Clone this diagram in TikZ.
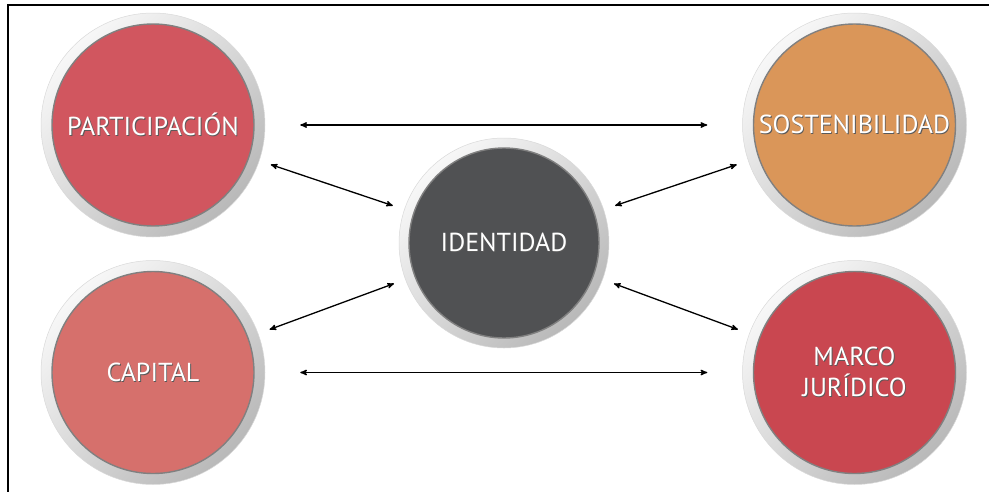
\documentclass[tikz,border=0pt]{standalone}
\usepackage{fontspec}
\setmainfont{PT Sans}
\usetikzlibrary{shapes,arrows,positioning}

\definecolor{partred}{RGB}{209,86,95}
\definecolor{capred}{RGB}{214,112,108}
\definecolor{sostorange}{RGB}{218,150,89}
\definecolor{marcored}{RGB}{201,71,80}
\definecolor{identgray}{RGB}{80,81,83}

\newcommand\embossed[1]{\leavevmode\rlap{\kern0.9pt\raisebox{-0.9pt}{\textcolor{black!65}{#1}}}#1}

\begin{document}
\begin{tikzpicture}[x=1pt,y=-1pt,>=stealth',node distance=23pt,
	ball/.style n args={3}{circle, inner sep=0pt, minimum size=#1, draw=gray!30, line width=0.5pt,
		top color=gray!6, bottom color=gray!55, shading angle=45,
		text=white, font=\fontsize{26}{31}\selectfont, align=center,
		path picture={\fill[#3] (path picture bounding box.center) circle[radius=#2];
			\draw[black!50, line width=1.4pt] (path picture bounding box.center) circle[radius=#2];}},
	link/.style={<->, line width=1.3pt, shorten >=#1, shorten <=#1}]
				\useasboundingbox (0,0) rectangle (989,491);
				\draw[line width=1.8pt] (8,500) |- (1000,5);
				
				\node[ball={224pt}{101pt}{partred}] (part) at (153,125) {\embossed{PARTICIPACIÓN}};
				\node[ball={224pt}{101pt}{capred}] (cap) [below=of part] {\embossed{CAPITAL}};
				\node[ball={224pt}{101pt}{sostorange}] (sost) [right=477pt of part] {\embossed{SOSTENIBILIDAD}};
				\node[ball={224pt}{101pt}{marcored}] (marco) [below=of sost] {\embossed{MARCO}\\\embossed{JURÍDICO}};
				
				\node[ball={210pt}{95pt}{identgray}] (ident) at (504,243) {\raisebox{-4pt}{\embossed{IDENTIDAD}}};
				
				\draw[link=35pt] (part) -- (sost);
				\draw[link=35pt] (cap) -- (marco);
				\draw[link=12pt] (part) -- (ident);
				\draw[link=12pt] (cap) -- (ident);
				\draw[link=12pt] (ident) -- (sost);
				\draw[link=12pt] (ident) -- (marco);
				
\end{tikzpicture}
\end{document}
